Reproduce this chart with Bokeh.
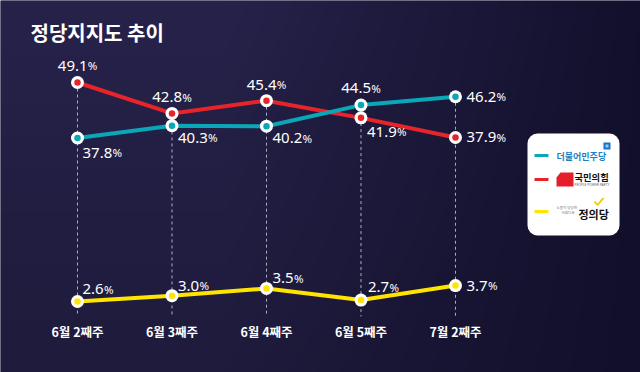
import numpy as np
from bokeh.plotting import figure
from bokeh.models import Range1d, BoxAnnotation, ColumnDataSource
from bokeh.embed import file_html
from bokeh.resources import INLINE
from bokeh.core.properties import value

# ---------------- data ----------------
weeks = ["6월 2째주", "6월 3째주", "6월 4째주", "6월 5째주", "7월 2째주"]
minjoo = [37.8, 40.3, 40.2, 44.5, 46.2]     # 더불어민주당
ppp = [49.1, 42.8, 45.4, 41.9, 37.9]        # 국민의힘
justice = [2.6, 3.0, 3.5, 2.7, 3.7]         # 정의당
party_names = ["더불어민주당", "국민의힘", "정의당"]
title_text = "정당지지도 추이"

# ---------------- styles ----------------
W, H = 640, 372
TEAL, RED, YELLOW = "#0aa7b8", "#e8242b", "#ffe400"
KFONT = "Noto Sans CJK KR"
NFONT = "Noto Sans"
NUM_SIZE, PCT_SIZE = 15.0, 11.5

# label placement (screen px offsets, alignment)
ppp_dx = [0, 0, 0, 6, 11]
ppp_dy = [-17, -16, -16, 14, 0]
ppp_al = ["center", "center", "center", "left", "left"]
mj_dx = [5, 6, 6, 0, 11]
mj_dy = [15, 12, 12, -17, 0]
mj_al = ["left", "left", "left", "center", "left"]
js_dx = [5, 6, 6, 7, 11]
js_dy = [-12, -10, -10, -13, 0]
js_al = ["left"] * 5

X_START, X_END = -0.8148, 5.958
UP_START, UP_END = -9.96, 65.80
LO_START, LO_END = -2.297, 23.36

p = figure(width=W, height=H, output_backend="svg", toolbar_location=None,
           x_range=Range1d(X_START, X_END), y_range=Range1d(UP_START, UP_END),
           x_axis_type=None, y_axis_type=None, min_border=0,
           outline_line_color=None, background_fill_color="#1f1b40",
           border_fill_color="#1f1b40")
p.extra_y_ranges = {"low": Range1d(LO_START, LO_END), "py": Range1d(0, H)}
p.extra_x_ranges = {"px": Range1d(0, W)}


def X(xr):  # picture x -> px range
    return xr


def Y(yr):  # picture y (top-down) -> px range (bottom-up)
    return H - yr


def upper_from_ref(yr):
    return UP_END - yr / H * (UP_END - UP_START)


def num_width(s):
    return sum(0.268 if c == "." else 0.572 for c in s) * NUM_SIZE


# ---------------- background gradient ----------------
nx, ny = 320, 186
tx = np.clip((np.linspace(0, 1, nx) - 0.35) / 0.65, 0, 1)[None, :]
ty = np.linspace(0, 1, ny)[:, None]  # 0 bottom, 1 top
Lt, Lb = np.array([39, 34, 74]), np.array([30, 27, 60])
Rt, Rb = np.array([19, 16, 45]), np.array([17, 15, 42])
left = Lb[None, None, :] + (Lt - Lb)[None, None, :] * ty[..., None]
right = Rb[None, None, :] + (Rt - Rb)[None, None, :] * ty[..., None]
col = left + (right - left) * tx[..., None]
img = np.empty((ny, nx), dtype=np.uint32)
view = img.view(dtype=np.uint8).reshape((ny, nx, 4))
view[..., 0] = col[..., 0].astype(np.uint8)
view[..., 1] = col[..., 1].astype(np.uint8)
view[..., 2] = col[..., 2].astype(np.uint8)
view[..., 3] = 255
bg = p.image_rgba(image=[img], x=0, y=0, dw=W, dh=H, x_range_name="px", y_range_name="py")
bg.level = "image"

idx = list(range(len(weeks)))

# ---------------- dashed drop lines ----------------
tops = [max(a, b) for a, b in zip(ppp, minjoo)]
bottom = upper_from_ref(316)
p.segment(x0=idx, x1=idx, y0=tops, y1=[bottom] * len(idx),
          line_color="#c8c8d8", line_alpha=0.85, line_width=1, line_dash="3 3")

# ---------------- lines ----------------
p.line(idx, ppp, line_color=RED, line_width=4)
p.line(idx, minjoo, line_color=TEAL, line_width=4)
p.line(idx, justice, line_color=YELLOW, line_width=4, y_range_name="low")

for vals, c, rn in [(ppp, RED, "default"), (minjoo, TEAL, "default"), (justice, YELLOW, "low")]:
    p.scatter(idx, vals, size=13, fill_color="white", line_color=None, y_range_name=rn)
    p.scatter(idx, vals, size=6.5, fill_color=c, line_color=None, y_range_name=rn)

# ---------------- value labels (number + smaller %) ----------------
PCT_W = 0.838 * PCT_SIZE
for vals, dx, dy, al, rn in [(ppp, ppp_dx, ppp_dy, ppp_al, "default"),
                             (minjoo, mj_dx, mj_dy, mj_al, "default"),
                             (justice, js_dx, js_dy, js_al, "low")]:
    nums = [f"{v:.1f}" for v in vals]
    nw = [num_width(s) for s in nums]
    start = [d - (w + PCT_W) / 2 if a == "center" else d for d, w, a in zip(dx, nw, al)]
    src = ColumnDataSource(dict(x=idx, y=vals, t=nums, pt=["%"] * len(vals),
                                sx=start, px=[s + w + 0.3 for s, w in zip(start, nw)], dy=dy))
    p.text(x="x", y="y", text="t", x_offset="sx", y_offset="dy", text_align="left",
           text_baseline="middle", text_color="white", text_font=value(NFONT),
           text_font_size=f"{NUM_SIZE}px", source=src, y_range_name=rn)
    p.text(x="x", y="y", text="pt", x_offset="px", y_offset="dy", text_align="left",
           text_baseline="middle", text_color="white", text_font=value(NFONT),
           text_font_size=f"{PCT_SIZE}px", source=src, y_range_name=rn)

# ---------------- x labels ----------------
p.text(x=idx, y=[Y(331)] * len(idx), text=weeks, y_range_name="py",
       text_align="center", text_baseline="middle", text_color="white",
       text_font=value(KFONT), text_font_style="bold", text_font_size="12.5px")

# ---------------- title ----------------
p.text(x=[X(30)], y=[Y(32)], text=[title_text], x_range_name="px", y_range_name="py",
       text_align="left", text_baseline="middle", text_color="white",
       text_font=value(KFONT), text_font_style="bold", text_font_size="20px")

# ---------------- legend box ----------------
box = BoxAnnotation(left=X(527), right=X(619), top=Y(133), bottom=Y(235),
                    x_range_name="px", y_range_name="py",
                    fill_color="white", fill_alpha=1, line_color=None, border_radius=10)
p.add_layout(box)

legend_renderers = []
leg_y = [155, 179, 211]
leg_c = [TEAL, RED, YELLOW]
legend_renderers.append(p.segment(x0=[X(534)] * 3, x1=[X(548)] * 3,
                                  y0=[Y(v) for v in leg_y], y1=[Y(v) for v in leg_y],
                                  line_color=leg_c, line_width=3, x_range_name="px", y_range_name="py"))

# 더불어민주당
legend_renderers.append(p.text(x=[X(556)], y=[Y(156)], text=[party_names[0]], x_range_name="px", y_range_name="py",
                               text_align="left", text_baseline="middle", text_color="#1b7fc3",
                               text_font=value(KFONT), text_font_style="bold", text_font_size="9px"))
legend_renderers.append(p.quad(left=[X(603)], right=[X(610)], top=[Y(142)], bottom=[Y(149)],
                               fill_color="#1b6fc0", line_color=None, x_range_name="px", y_range_name="py"))
legend_renderers.append(p.quad(left=[X(605)], right=[X(608)], top=[Y(144)], bottom=[Y(147)],
                               fill_color="#8fd0f0", line_color=None, x_range_name="px", y_range_name="py"))

# 국민의힘
legend_renderers.append(p.patch(x=[X(560), X(573), X(573), X(556), X(556)],
                                y=[Y(172), Y(172), Y(186), Y(186), Y(177)],
                                fill_color="#e61e2b", line_color=None, x_range_name="px", y_range_name="py"))
legend_renderers.append(p.text(x=[X(574)], y=[Y(176)], text=[party_names[1]], x_range_name="px", y_range_name="py",
                               text_align="left", text_baseline="middle", text_color="#111111",
                               text_font=value(KFONT), text_font_style="bold", text_font_size="9.3px"))
legend_renderers.append(p.text(x=[X(574)], y=[Y(183.5)], text=["PEOPLE POWER PARTY"], x_range_name="px",
                               y_range_name="py", text_align="left", text_baseline="middle",
                               text_color="#666666", text_font=value(NFONT), text_font_size="3.3px"))

# 정의당
legend_renderers.append(p.text(x=[X(556)], y=[Y(207)], text=["노동이 당당한"], x_range_name="px", y_range_name="py",
                               text_align="left", text_baseline="middle", text_color="#777777",
                               text_font=value(KFONT), text_font_size="3.6px"))
legend_renderers.append(p.text(x=[X(561)], y=[Y(212)], text=["사회다운"], x_range_name="px", y_range_name="py",
                               text_align="left", text_baseline="middle", text_color="#777777",
                               text_font=value(KFONT), text_font_size="3.6px"))
legend_renderers.append(p.text(x=[X(578)], y=[Y(213)], text=[party_names[2]], x_range_name="px", y_range_name="py",
                               text_align="left", text_baseline="middle", text_color="#111111",
                               text_font=value(KFONT), text_font_style="bold", text_font_size="11px"))
legend_renderers.append(p.line(x=[X(594), X(597), X(603)], y=[Y(201), Y(204.5), Y(197.5)],
                               line_color="#f2c500", line_width=1.8, x_range_name="px", y_range_name="py"))
for r in legend_renderers:
    r.level = "overlay"

open("out.html", "w").write(file_html(p, INLINE))
